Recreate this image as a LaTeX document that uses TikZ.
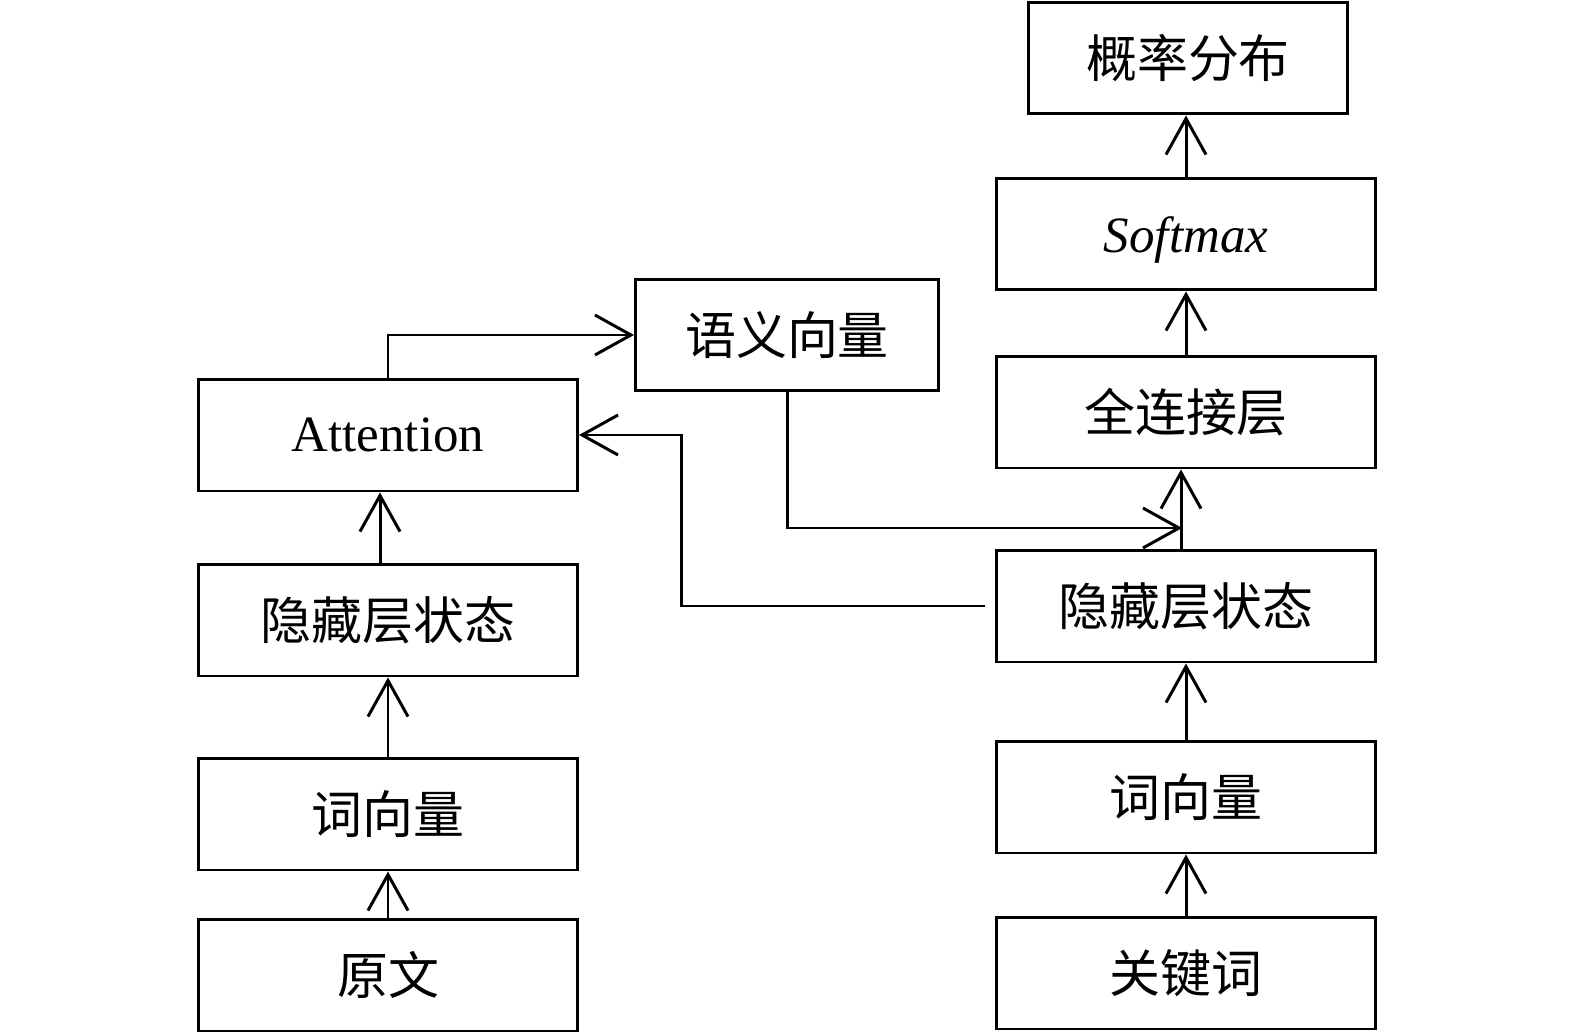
\documentclass[tikz,border=0pt]{standalone}
\usepackage{fontspec}
\setmainfont{Liberation Serif}
\newfontfamily\cjk{Noto Sans CJK SC}
\usepackage{tikz}
\usetikzlibrary{arrows.meta, positioning}

\begin{document}
\begin{tikzpicture}[
  x=0.02cm, y=-0.02cm,
  box/.style={rectangle, draw, line width=1.7pt, minimum width=7.58cm,
              minimum height=2.24cm, align=center, font=\fontsize{29}{34}\selectfont},
  zh/.style={box, font=\cjk\fontsize{29}{34}\selectfont},
  arr/.style={-{Straight Barb[length=0.72cm, width=0.8cm, line width=1.7pt]}, line width=1.7pt}
]
  \useasboundingbox (0,0) rectangle (1575,1034);

  % Left column
  \node[zh] (src) at (388,975) {原文};
  \node[zh] (embL) at (388,814) {词向量};
  \node[zh] (hidL) at (388,620) {隐藏层状态};
  \node[box] (att) at (388,435) {Attention};

  % Context vector
  \node[zh, minimum width=6.06cm] (ctx) at (787,335) {语义向量};

  % Right column
  \node[zh] (kw) at (1186,973) {关键词};
  \node[zh] (embR) at (1186,797) {词向量};
  \node[zh] (hidR) at (1186,606) {隐藏层状态};
  \node[zh] (fc) at (1186,412) {全连接层};
  \node[box, text height=0.95cm, text depth=0.22cm] (sm) at (1186,234) {\textit{Softmax}};
  \node[zh, minimum width=6.4cm] (prob) at (1188,58) {概率分布};

  \coordinate (turn) at (681,435);
  \coordinate (join) at (1182,528);

  % Arrows
  \draw[arr] (src) -- (embL);
  \draw[arr] (embL) -- (hidL);
  \draw[arr] ([xshift=-0.16cm]hidL.north) -- ([xshift=-0.16cm]att.south);
  \draw[arr] (att.north) |- (ctx.west);
  \draw[arr] ([xshift=-0.2cm]hidR.west) -| (turn) -- (att.east);
  \draw[arr] (ctx.south) |- (join);
  \draw[arr] (kw) -- (embR);
  \draw[arr] (embR) -- (hidR);
  \draw[arr] ([xshift=-0.1cm]hidR.north) -- ([xshift=-0.1cm]fc.south);
  \draw[arr] (fc) -- (sm);
  \draw[arr] (sm.north) -- (sm.north |- prob.south);
\end{tikzpicture}
\end{document}
